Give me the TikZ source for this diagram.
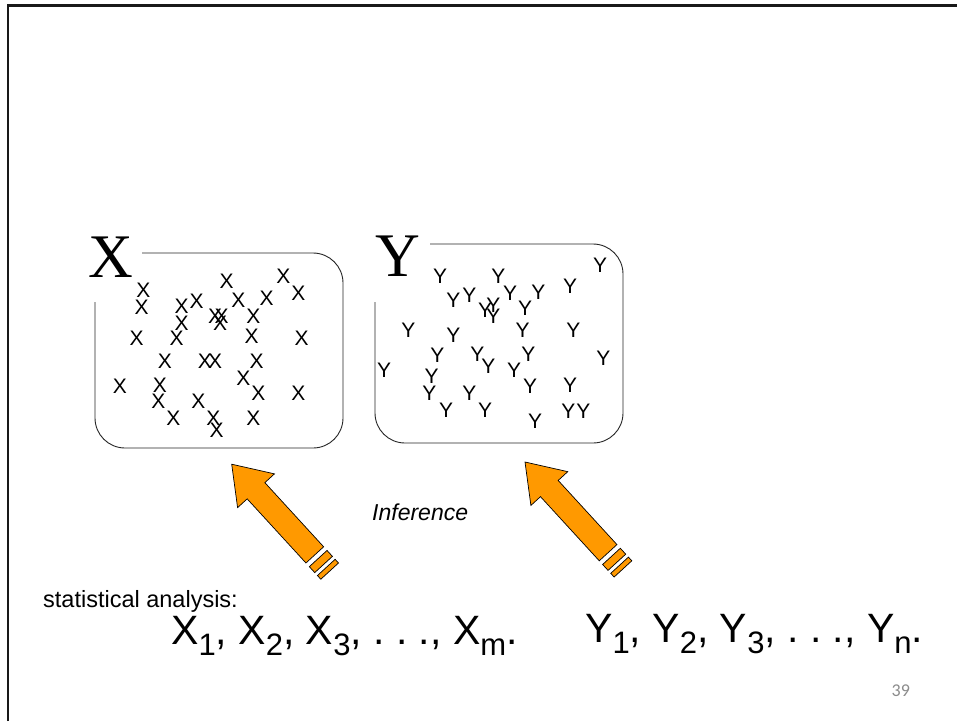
\documentclass[tikz,border=0pt]{standalone}
\usepackage{fontspec}
\setmainfont{Liberation Sans}
\newfontfamily\serifbig{Liberation Serif}
\newfontfamily\pagefont{Carlito}
\definecolor{arroworange}{HTML}{FF9900}
\definecolor{pagegray}{HTML}{8C8C8C}
\newcommand{\mysub}[1]{\raisebox{-11pt}{\fontsize{31}{31}\selectfont #1}}
\newcommand{\stripedarrow}[3]{%
  \begin{scope}[shift={(#2,#3)}, rotate=-47.5]
    \draw[bigarrow] (0,0) -- (36,-25) -- (36,-12) -- (123,-12) -- (123,12) -- (36,12) -- (36,25) -- cycle;
    \draw[bigarrow] (128,-12) rectangle (136,12);
    \draw[bigarrow] (140,-12) rectangle (145,12);
    \coordinate (#1) at (0,0);
  \end{scope}}
\tikzset{
  ptmark/.style={inner sep=0pt, font=\fontsize{21}{21}\selectfont},
  boxline/.style={line width=0.9pt, draw=black!85, rounded corners=30pt},
  bigarrow/.style={fill=arroworange, draw=black, line width=0.7pt, line join=miter},
  biglabel/.style={inner sep=0pt, font=\serifbig\fontsize{62}{62}\selectfont},
  seqtext/.style={anchor=base west, inner sep=0pt, font=\fontsize{41}{41}\selectfont},
}
\begin{document}
\begin{tikzpicture}[x=1pt, y=-1pt]
\useasboundingbox (0,0) rectangle (957,721);
\fill[white] (0,0) rectangle (957,721);
% frame
\draw[line width=2.4pt, black!90, line join=miter] (8,721) -- (8,5.5) -- (957,5.5);
% boxes
\draw[boxline] (142,253) -- (343,253) -- (343,448) -- (95,448) -- (95,302);
\draw[boxline] (430,244) -- (623,244) -- (623,443) -- (375,443) -- (375,302);
\node[biglabel] (labelX) at (111,257.5) {X};
\node[biglabel] (labelY) at (397.5,256.5) {Y};
% X marks
\foreach \px/\py [count=\i] in {143.3/290, 141.7/307.3, 226.7/281.7, 283.3/276.7, 298.3/293.3,
  196.7/301, 181.7/306.7, 238.3/300, 266.7/298.3, 215/316.7, 221.7/316, 220/323.3,
  253.3/316.7, 181.7/323.3, 136.7/338.3, 176.7/338.3, 251.7/336.7, 301.7/338.3,
  165/361.7, 205/361.7, 215/361.7, 256.7/361.7, 243.3/378.3, 120/386.7, 160/385,
  258.3/393.3, 298.3/393.3, 158.3/401.7, 198.3/401.7, 173.3/418.3, 213.3/418.3,
  216.7/430, 253.3/418.3}
  \node[ptmark] (xm\i) at (\px,\py) {X};
% Y marks
\foreach \px/\py [count=\i] in {440/276.7, 498.3/276.7, 600/265, 570/286.7, 453.3/300,
  469.3/295, 510/293.3, 538.3/292.7, 485/310, 493.3/305, 493.3/316.7, 525/308.3,
  408.3/330, 453.3/335, 522.7/330, 573.3/330, 437.3/355, 477.3/354, 528.3/354,
  603.3/358.3, 384/370, 488.3/366.7, 514/370, 431.7/376, 530/386.7, 570/385,
  429.3/393.3, 469.3/393.3, 446/410, 485/410, 535/421.7, 568.3/411.7, 583.3/411.7}
  \node[ptmark] (ym\i) at (\px,\py) {Y};
% arrows
\stripedarrow{arrowA}{231.7}{464.2}
\stripedarrow{arrowB}{525}{462}
% texts
\node[anchor=base west, inner sep=0pt, font=\itshape\fontsize{23}{23}\selectfont] (inference) at (372,520) {Inference};
\node[anchor=base east, inner sep=0pt, font=\fontsize{23.5}{23.5}\selectfont] (stat) at (238,607) {statistical analysis:};
\node[seqtext] (xseq) at (171,644) {\frenchspacing X\mysub{1}, X\mysub{2}, X\mysub{3}, .\ .\ ., X\mysub{m}.};
\node[seqtext] (yseq) at (585,642) {\frenchspacing Y\mysub{1}, Y\mysub{2}, Y\mysub{3}, .\ .\ ., Y\mysub{n}.};
\node[inner sep=0pt, font=\pagefont\fontsize{18}{18}\selectfont, text=pagegray] (pagenum) at (900.8,690.3) {39};
\end{tikzpicture}
\end{document}
